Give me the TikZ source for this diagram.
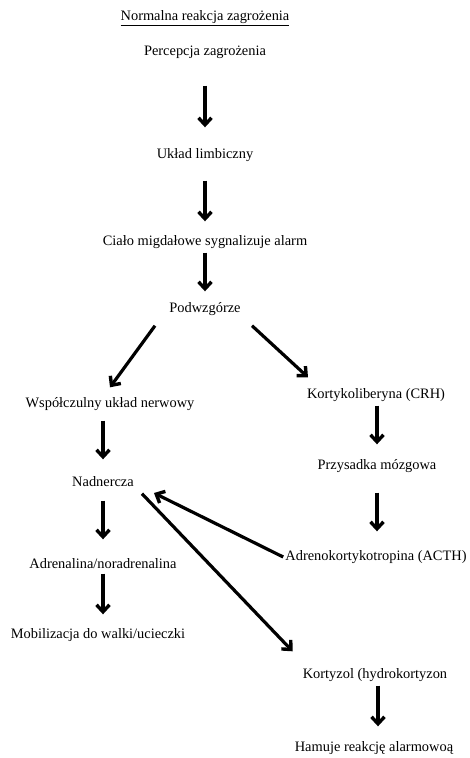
\documentclass[tikz,border=0pt]{standalone}
\usepackage{fontspec}
\setmainfont{Liberation Serif}
\usetikzlibrary{arrows.meta}
\begin{document}
\begin{tikzpicture}[x=1pt,y=-1pt,
  lbl/.style={inner sep=0pt, text height=10pt, text depth=3pt, font=\fontsize{14.4}{16}\selectfont, text=black},
  arr/.style={line width=3.2pt, draw=black, -{Straight Barb[length=7pt,width=13pt,line width=3.4pt]}}]
\useasboundingbox[fill=white] (0,0) rectangle (470,758);
\node[lbl] (title) at (205,17) {\underline{Normalna reakcja zagrożenia}};
\node[lbl] (perc) at (205,52) {Percepcja zagrożenia};
\node[lbl] (limb) at (205,155) {Układ limbiczny};
\node[lbl] (cialo) at (205,242) {Ciało migdałowe sygnalizuje alarm};
\node[lbl] (podw) at (205,309) {Podwzgórze};
\node[lbl] (wspol) at (110,404) {Współczulny układ nerwowy};
\node[lbl] (crh) at (376,395) {Kortykoliberyna (CRH)};
\node[lbl] (nadn) at (103,483) {Nadnercza};
\node[lbl] (przys) at (377,466) {Przysadka mózgowa};
\node[lbl] (adren) at (103,565) {Adrenalina/noradrenalina};
\node[lbl] (acth) at (376,557) {Adrenokortykotropina (ACTH)};
\node[lbl] (mobil) at (98,635) {Mobilizacja do walki/ucieczki};
\node[lbl] (kort) at (375,675) {Kortyzol (hydrokortyzon};
\node[lbl] (ham) at (374,748) {Hamuje reakcję alarmowoą};
% vertical arrows
\draw[arr, shorten <=27pt, shorten >=21pt] (perc) -- (limb);
\draw[arr, shorten <=19pt, shorten >=14pt] (limb) -- (cialo);
\draw[arr, shorten <=4pt, shorten >=11pt] (cialo) -- (podw);
\draw[arr, shorten <=10pt, shorten >=17pt] (nadn |- wspol.south) -- (nadn);
\draw[arr, shorten <=4pt, shorten >=15pt] (przys |- crh.south) -- (przys);
\draw[arr, shorten <=11pt, shorten >=19pt] (nadn) -- (adren);
\draw[arr, shorten <=20pt, shorten >=19pt] (przys) -- (przys |- acth.north);
\draw[arr, shorten <=2pt, shorten >=14pt] (adren) -- (adren |- mobil.north);
\draw[arr, shorten <=4pt, shorten >=15pt] (kort.south -| 378,0) -- (ham.north -| 378,0);
% diagonal arrows
\draw[arr] ([xshift=-50pt,yshift=-10pt]podw.south) -- ([yshift=10pt]wspol.north);
\draw[arr] ([xshift=47pt,yshift=-10pt]podw.south) -- ([xshift=-68pt,yshift=11pt]crh.north);
\draw[arr] ([xshift=-2pt]acth.west) -- ([xshift=20pt,yshift=-10pt]nadn.east);
\draw[arr] ([xshift=8pt,yshift=-4pt]nadn.south east) -- ([xshift=-10pt,yshift=17pt]kort.north west);
\end{tikzpicture}
\end{document}
